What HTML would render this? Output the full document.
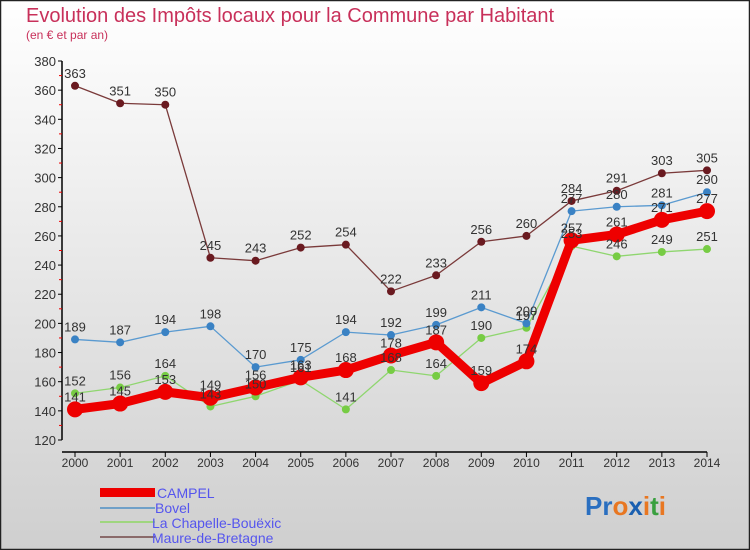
<!DOCTYPE html>
<html><head><meta charset="utf-8"><style>
body{margin:0;}
#wrap{position:relative;width:750px;height:550px;overflow:hidden;font-family:"Liberation Sans",sans-serif;}
</style></head><body>
<div id="wrap">
<svg id="chart" width="750" height="550" xmlns="http://www.w3.org/2000/svg">
<defs><linearGradient id="bg" x1="0" y1="0" x2="0" y2="1"><stop offset="0" stop-color="#ffffff"/><stop offset="1" stop-color="#cfcfcf"/></linearGradient></defs>
<rect x="0.5" y="0.5" width="749" height="549" fill="url(#bg)" stroke="#222" stroke-width="1.5"/>
<text x="26" y="22" font-size="20" fill="#c8305a">Evolution des Impôts locaux pour la Commune par Habitant</text>
<text x="26" y="39" font-size="12" fill="#c8305a">(en € et par an)</text>
<g id="axes"></g><g id="series"></g><g id="labels"></g>
<g>
<rect x="100" y="488" width="55" height="9" fill="#e00"/>
<text x="157" y="498" font-size="14" fill="#5555ee">CAMPEL</text>
<line x1="100" y1="508" x2="155" y2="508" stroke="#6fa0c8" stroke-width="2"/>
<text x="155" y="513" font-size="14" fill="#5555ee">Bovel</text>
<line x1="100" y1="522" x2="155" y2="522" stroke="#9fd67f" stroke-width="2"/>
<text x="152" y="528" font-size="14" fill="#5555ee">La Chapelle-Bouëxic</text>
<line x1="100" y1="537" x2="155" y2="537" stroke="#8a6a6a" stroke-width="2"/>
<text x="152" y="543" font-size="14" fill="#5555ee">Maure-de-Bretagne</text>
</g>
<text x="585" y="515" font-size="26" font-weight="bold"><tspan fill="#2a6fc0">Pr</tspan><tspan fill="#e87722">o</tspan><tspan fill="#1a5fb0">x</tspan><tspan fill="#e87722">i</tspan><tspan fill="#3aa040">t</tspan><tspan fill="#e87722">i</tspan></text>
</svg>
</div>
<script>
const years=[2000,2001,2002,2003,2004,2005,2006,2007,2008,2009,2010,2011,2012,2013,2014];
const yTicks=[120,140,160,180,200,220,240,260,280,300,320,340,360,380];
const campel=[141,145,153,149,156,163,168,178,187,159,174,257,261,271,277];
const bovel=[189,187,194,198,170,175,194,192,199,211,200,277,280,281,290];
const chapelle=[152,156,164,143,150,161,141,168,164,190,197,253,246,249,251];
const maure=[363,351,350,245,243,252,254,222,233,256,260,284,291,303,305];
const NS="http://www.w3.org/2000/svg";
const xS=i=>75+i*(707-75)/(years.length-1);
const yS=v=>440-(v-120)*(440-61)/(380-120);
function mk(t,a,p){const e=document.createElementNS(NS,t);for(const k in a)e.setAttribute(k,a[k]);p.appendChild(e);return e;}
const ax=document.getElementById('axes'),sg=document.getElementById('series'),lg=document.getElementById('labels');
let l=mk('line',{x1:62,y1:61,x2:62,y2:440,stroke:'#000','stroke-width':1.5},ax);


l=mk('line',{x1:62,y1:452,x2:707,y2:452,stroke:'#000','stroke-width':1.5},ax);


yTicks.forEach((v,i)=>{const y=yS(v);
 mk('line',{x1:58,y1:y,x2:62,y2:y,stroke:'#000'},ax);
 if(i<yTicks.length-1) mk('line',{x1:59,y1:yS(v+10),x2:62,y2:yS(v+10),stroke:'#e00'},ax);
 const t=mk('text',{x:56,y:y+5,'font-size':13,fill:'#333','text-anchor':'end'},ax);t.textContent=v;
 
 });
years.forEach((yr,i)=>{const x=xS(i);
 mk('line',{x1:x,y1:452,x2:x,y2:457,stroke:'#000'},ax);
 const t=mk('text',{x:x,y:467,'font-size':12,fill:'#333','text-anchor':'middle'},ax);t.textContent=yr;
 
 });
function series(d,name,col,dot,w,r){
 const p=mk('polyline',{points:d.map((v,i)=>xS(i)+','+yS(v)).join(' '),fill:'none',stroke:col,'stroke-width':w,'stroke-linejoin':'round'},sg);
 
 
 d.forEach((v,i)=>{const c=mk('circle',{cx:xS(i),cy:yS(v),r:r,fill:dot},sg);
  
  
  const t=mk('text',{x:xS(i),y:yS(v)-8,'font-size':13,fill:'#333','text-anchor':'middle'},lg);t.textContent=v;
  
  });
}
series(maure,'maure','#7a3a3a','#6a1a20',1.3,4);
series(chapelle,'la-chapelle','#8fd66f','#77cc44',1.3,4);
series(bovel,'bovel','#5a9ad0','#3a82c4',1.3,4);
series(campel,'campel','#ee0000','#ee0000',9,8);
</script>
</body></html>
